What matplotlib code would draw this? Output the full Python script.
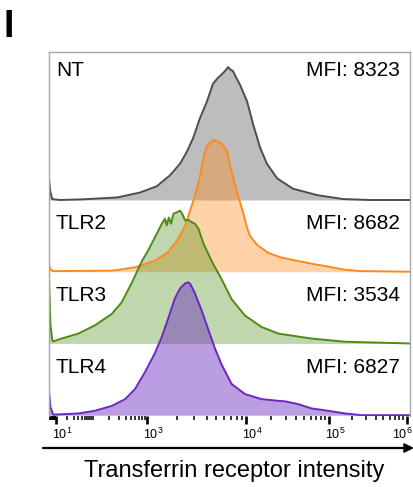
import numpy as np
import matplotlib
matplotlib.use("Agg")
import matplotlib.pyplot as plt
from matplotlib.transforms import ScaledTranslation

plt.rcParams["font.family"] = ["Liberation Sans", "DejaVu Sans"]
plt.rcParams["mathtext.fontset"] = "custom"
plt.rcParams["mathtext.rm"] = "Liberation Sans"
plt.rcParams["mathtext.it"] = "Liberation Sans:italic"
plt.rcParams["mathtext.bf"] = "Liberation Sans:bold"

samples = ["NT", "TLR2", "TLR3", "TLR4"]
mfi = [8323, 8682, 3534, 6827]

# histograms: display channel (0-1024) vs count as % of mode
nt_ch = [0, 3, 9, 31, 96, 193, 258, 306, 343, 372, 391, 409, 428, 448, 465, 479, 488, 494,
         499, 508, 513, 522, 530, 542, 562, 579, 599, 618, 647, 692, 760, 834, 911, 1024]
nt_pct = [16.3, 7.4, 0.7, 0, 0.5, 1.9, 5.6, 10.4, 18.5, 27.4, 36.3, 46.7, 61.5, 74.1, 87.4,
          91.9, 94.1, 95.6, 97.0, 100, 98.5, 97.0, 92.6, 86.7, 74.1, 57.0, 39.3, 27.4, 16.3,
          8.5, 3.7, 0.7, 0, 0]

tlr2_ch = [0, 3, 11, 31, 179, 244, 301, 338, 366, 386, 400, 414, 423, 428, 438, 447, 457, 466,
           476, 490, 504, 513, 523, 536, 547, 561, 570, 590, 621, 655, 689, 746, 792, 840, 882, 1024]
tlr2_pct = [5.8, 2.0, 0.5, 0.5, 0.8, 3.3, 8.3, 14.8, 24.6, 34.6, 45.9, 57.1, 66.0, 71.4, 85.7,
            94.0, 97.0, 99.2, 98.5, 96.2, 91.7, 81.2, 70.0, 57.1, 48.1, 33.8, 27.0, 20.3, 14.3,
            10.9, 9.0, 6.0, 3.8, 1.5, 0.5, 0]

tlr3_ch = [0, 4, 9, 12, 36, 83, 130, 178, 206, 235, 263, 282, 301, 320, 329, 334, 340, 346, 353,
           362, 372, 378, 386, 395, 405, 414, 424, 438, 462, 490, 518, 556, 603, 651, 745, 840, 1024]
tlr3_pct = [48.9, 14.8, 3.0, 1.5, 3.7, 7.4, 13.6, 22.2, 30.9, 45.7, 61.7, 70.4, 80.2, 90.1, 93.9,
            88.9, 94.8, 90.1, 97.6, 98.7, 100, 97.6, 92.6, 93.1, 91.3, 90.1, 86.4, 75.3, 61.7,
            48.1, 33.3, 21.0, 12.4, 7.4, 3.7, 1.3, 0]

tlr4_ch = [0, 4, 12, 83, 130, 178, 216, 244, 272, 301, 320, 338, 357, 372, 386, 395, 400, 414,
           433, 452, 471, 490, 518, 556, 603, 651, 670, 707, 745, 792, 840, 887, 1024]
tlr4_pct = [18.2, 6.1, 0.4, 1.3, 3.3, 7.0, 12.1, 19.7, 32.3, 47.0, 59.0, 72.7, 87.9, 95.5, 99.2,
            100, 99.2, 91.7, 78.8, 64.4, 50.0, 37.9, 23.5, 15.9, 12.1, 10.8, 10.4, 8.3, 5.1, 3.3,
            1.3, 0, 0]

# channel of each decade on the biexponential display axis
decade_exp = [1, 2, 3, 4, 5, 6]
decade_ch = [20, 125, 278, 560, 794, 1015]
labeled_exp = [1, 3, 4, 5, 6]

line_colors = ["#4d4d4d", "#ff8a1c", "#4d8c14", "#6a28c0"]
fill_colors = ["#bdbdbd", "#ff8a1c", "#4d8c14", "#6a28c0"]
fill_alpha = [1.0, 0.38, 0.35, 0.45]
lane_offsets = [162, 108, 54, 0]


def to_channel(v):
    v = np.asarray(v, dtype=float)
    lin = v / 10.0 * decade_ch[0]
    logpos = np.interp(np.log10(np.maximum(v, 10)), decade_exp, decade_ch)
    return np.where(v < 10, lin, logpos)


fig = plt.figure(figsize=(4.14, 4.87), dpi=100)
ax = fig.add_axes([49 / 414, 1 - 416 / 487, 361 / 414, 364 / 487])

hists = [(nt_ch, nt_pct), (tlr2_ch, tlr2_pct), (tlr3_ch, tlr3_pct), (tlr4_ch, tlr4_pct)]
for i, (ch, pct) in enumerate(hists):
    off = lane_offsets[i]
    y = off + np.asarray(pct)
    ax.fill_between(ch, off, y, color=fill_colors[i], alpha=fill_alpha[i], lw=0)
    ax.plot(ch, y, color=line_colors[i], lw=1.4, solid_joinstyle="round")

# lane labels and MFI values
for i, name in enumerate(samples):
    ty = 255 if i == 0 else lane_offsets[i] + 32
    ax.text(0.019, ty, name, transform=ax.get_yaxis_transform(), fontsize=15,
            ha="left", va="baseline")
    ax.text(0.972, ty, f"MFI: {mfi[i]}", transform=ax.get_yaxis_transform(), fontsize=15,
            ha="right", va="baseline")

ax.set_xlim(0, 1024)
ax.set_ylim(-0.6, 273.4)
ax.set_yticks([])

# major ticks at labelled decades, minor ticks at the in-between values
major_vals = [10.0 ** e for e in labeled_exp]
minor_vals = []
for d in range(0, 6):
    for k in range(1, 10):
        v = k * 10.0 ** d
        if v not in major_vals and v <= 1e6:
            minor_vals.append(v)
ax.set_xticks(to_channel(major_vals))
ax.set_xticklabels([rf"$\mathregular{{10^{{{e}}}}}$" for e in labeled_exp], fontsize=9)
ax.set_xticks(to_channel(minor_vals), minor=True)
ax.tick_params(axis="x", which="major", direction="out", length=5.8, width=1.9, pad=2,
               colors="black")
ax.tick_params(axis="x", which="minor", direction="out", length=3.2, width=1.1, colors="black")
labels = ax.get_xticklabels()
for j, lab in enumerate(labels):
    dx = -5 if j == len(labels) - 1 else 6
    lab.set_transform(lab.get_transform() + ScaledTranslation(dx / 100, 0, fig.dpi_scale_trans))

for side in ["left", "top", "right"]:
    ax.spines[side].set_color("#a8a8a8")
    ax.spines[side].set_linewidth(1.0)
ax.spines["bottom"].set_visible(False)

# axis arrow and title
ax.annotate("", xy=(414, 487 - 448), xytext=(43, 487 - 448), xycoords="figure pixels",
            textcoords="figure pixels", annotation_clip=False,
            arrowprops=dict(arrowstyle="-|>", color="black", lw=1.6, mutation_scale=13,
                            shrinkA=0, shrinkB=0))
fig.text(234 / 414, 1 - 471 / 487, "Transferrin receptor intensity", fontsize=17,
         ha="center", va="center")

fig.text(4 / 414, 1 - 37 / 487, "I", fontsize=27, fontweight="bold", va="baseline")

fig.savefig("out.png", dpi=100)
